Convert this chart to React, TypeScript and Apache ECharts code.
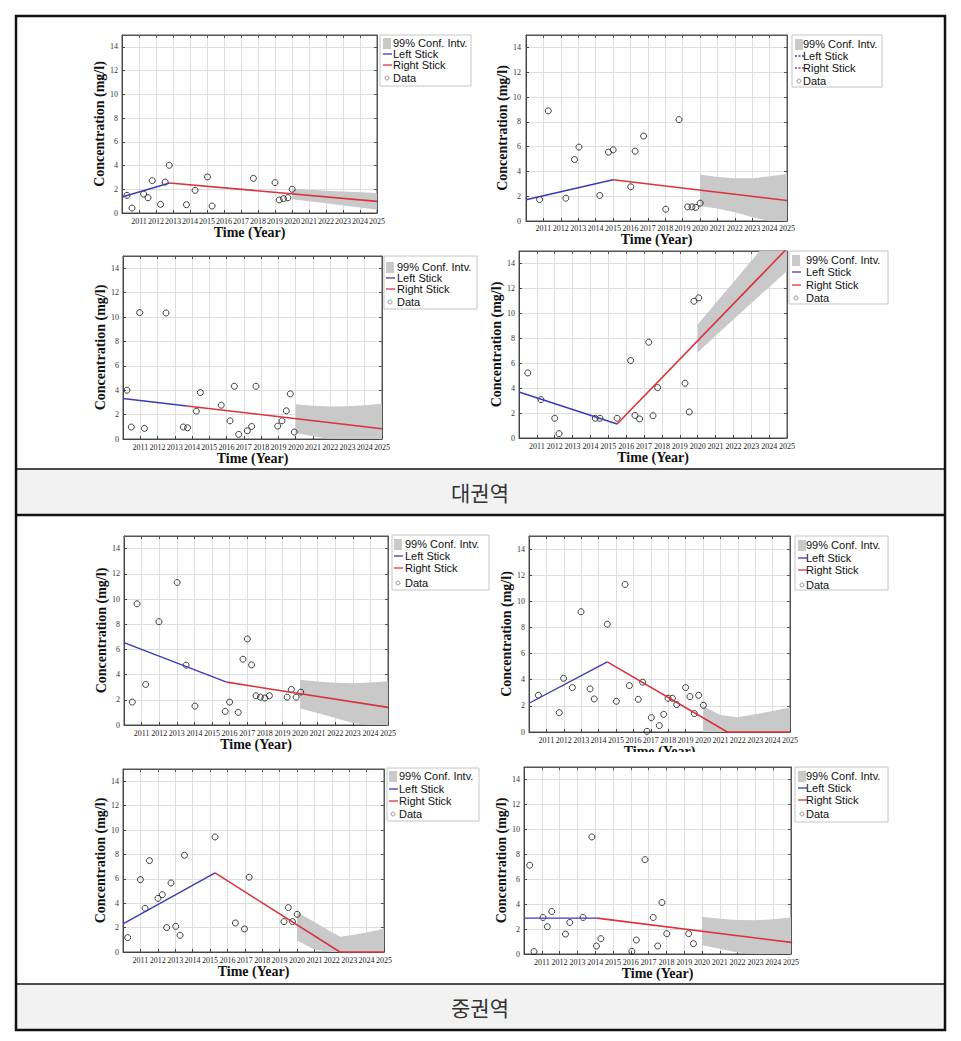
import React, { useEffect, useRef } from "react";
import * as echarts from "echarts";

// ---------- data ----------
const yearRange = [2010, 2025];
const concRange = [0, 15];
const sectionLabels = ["대권역", "중권역"];
const legendLabels = ["99% Conf. Intv.", "Left Stick", "Right Stick", "Data"];

const ciYears = [2020, 2021, 2022, 2023, 2024, 2025];

// Panel 1 (대권역, top-left)
const p1X = [2010.29, 2010.59, 2011.27, 2011.53, 2011.78, 2012.27, 2012.54, 2012.78, 2013.79, 2014.3, 2015.03, 2015.3, 2017.73, 2019.0, 2019.25, 2019.5, 2019.76, 2020.01];
const p1Y = [1.49, 0.42, 1.6, 1.29, 2.73, 0.73, 2.61, 4.02, 0.7, 1.91, 3.04, 0.59, 2.92, 2.56, 1.1, 1.21, 1.29, 2.0];
const p1Left = [[2010, 1.35], [2012.8, 2.53]];
const p1Right = [[2012.8, 2.53], [2025, 0.98]];
const p1CiUpper = [2.05, 1.96, 1.88, 1.82, 1.75, 1.69];
const p1CiLower = [1.15, 0.98, 0.82, 0.64, 0.46, 0.28];

// Panel 2 (대권역, top-right)
const p2X = [2010.78, 2011.28, 2012.29, 2012.79, 2013.04, 2014.24, 2014.74, 2015.01, 2016.02, 2016.27, 2016.76, 2018.03, 2018.79, 2019.29, 2019.54, 2019.76, 2020.01];
const p2Y = [1.73, 8.88, 1.84, 4.96, 5.96, 2.06, 5.55, 5.74, 2.76, 5.63, 6.85, 0.95, 8.18, 1.14, 1.14, 1.1, 1.44];
const p2Left = [[2010, 1.71], [2015.0, 3.33]];
const p2Right = [[2015.0, 3.33], [2025, 1.65]];
const p2CiUpper = [3.75, 3.55, 3.45, 3.45, 3.6, 3.8];
const p2CiLower = [1.2, 1.0, 0.7, 0.3, 0, 0];

// Panel 3 (대권역, middle-left)
const p3X = [2010.23, 2010.48, 2010.97, 2011.24, 2012.49, 2013.49, 2013.74, 2014.25, 2014.48, 2015.69, 2016.2, 2016.45, 2016.7, 2017.2, 2017.45, 2017.7, 2018.96, 2019.21, 2019.46, 2019.69, 2019.92];
const p3Y = [4.0, 0.98, 10.36, 0.87, 10.33, 0.98, 0.92, 2.28, 3.81, 2.77, 1.49, 4.32, 0.38, 0.68, 1.03, 4.32, 1.06, 1.49, 2.31, 3.7, 0.57];
const p3Left = [[2010, 3.32], [2013.7, 2.71]];
const p3Right = [[2013.7, 2.71], [2025, 0.84]];
const p3CiUpper = [2.85, 2.72, 2.66, 2.68, 2.76, 2.88];
const p3CiLower = [0.5, 0.22, 0, 0, 0, 0];

// Panel 4 (대권역, middle-right)
const p4X = [2010.49, 2011.23, 2012.0, 2012.24, 2014.27, 2014.53, 2015.49, 2016.25, 2016.49, 2016.75, 2017.26, 2017.5, 2017.76, 2019.29, 2019.53, 2019.79, 2020.06];
const p4Y = [5.22, 3.08, 1.58, 0.35, 1.58, 1.58, 1.58, 6.21, 1.82, 1.53, 7.68, 1.79, 4.04, 4.39, 2.09, 10.97, 11.24];
const p4Left = [[2010, 3.69], [2015.49, 1.12]];
const p4Right = [[2015.49, 1.12], [2025, 15.2]];
const p4CiUpper = [9.1, 10.8, 12.5, 14.2, 15.9, 17.6];
const p4CiLower = [6.85, 8.2, 9.5, 10.8, 12.1, 13.4];

// Panel 5 (중권역, top-left)
const p5X = [2010.47, 2010.74, 2011.23, 2011.99, 2013.02, 2013.53, 2014.03, 2015.75, 2016.0, 2016.49, 2016.76, 2017.01, 2017.25, 2017.5, 2017.75, 2018.0, 2018.26, 2019.27, 2019.51, 2019.78, 2020.04];
const p5Y = [1.82, 9.62, 3.22, 8.2, 11.31, 4.75, 1.5, 1.08, 1.82, 1.0, 5.22, 6.83, 4.77, 2.32, 2.21, 2.14, 2.32, 2.21, 2.82, 2.21, 2.61];
const p5Left = [[2010, 6.54], [2015.83, 3.4]];
const p5Right = [[2015.83, 3.4], [2025, 1.4]];
const p5CiUpper = [3.59, 3.45, 3.35, 3.32, 3.37, 3.47];
const p5CiLower = [1.3, 0.95, 0.55, 0.15, 0, 0];

// Panel 6 (중권역, top-right)
const p6X = [2010.54, 2011.74, 2011.99, 2012.49, 2012.99, 2013.51, 2013.75, 2014.5, 2015.02, 2015.52, 2015.77, 2016.28, 2016.53, 2016.78, 2017.03, 2017.49, 2017.74, 2017.99, 2018.24, 2018.49, 2019.0, 2019.25, 2019.5, 2019.75, 2020.02];
const p6Y = [2.81, 1.48, 4.11, 3.4, 9.2, 3.3, 2.53, 8.25, 2.35, 11.29, 3.55, 2.5, 3.81, 0.05, 1.1, 0.49, 1.35, 2.58, 2.58, 2.1, 3.4, 2.71, 1.41, 2.81, 2.04];
const p6Left = [[2010, 2.2], [2014.5, 5.37]];
const p6Right = [[2014.5, 5.37], [2021.4, 0], [2025, 0]];
const p6CiUpper = [1.97, 1.3, 1.12, 1.35, 1.6, 1.87];
const p6CiLower = [0, 0, 0, 0, 0, 0];

// Panel 7 (중권역, bottom-left)
const p7X = [2010.27, 2011.0, 2011.27, 2011.52, 2012.01, 2012.26, 2012.51, 2012.76, 2013.03, 2013.28, 2013.53, 2015.29, 2016.46, 2016.98, 2017.25, 2019.25, 2019.5, 2019.74, 2020.01];
const p7Y = [1.18, 5.93, 3.58, 7.49, 4.4, 4.7, 2.0, 5.66, 2.1, 1.37, 7.93, 9.43, 2.38, 1.89, 6.13, 2.49, 3.64, 2.49, 3.09];
const p7Left = [[2010, 2.3], [2015.29, 6.48]];
const p7Right = [[2015.29, 6.48], [2022.47, 0], [2025, 0]];
const p7CiYears = [2020, 2021, 2022, 2022.5, 2023, 2024, 2025];
const p7CiUpper = [3.28, 2.45, 1.62, 1.25, 1.35, 1.6, 1.9];
const p7CiLower = [0.95, 0.2, 0, 0, 0, 0, 0];

// Panel 8 (중권역, bottom-right)
const p8X = [2010.32, 2010.56, 2011.07, 2011.31, 2011.56, 2012.33, 2012.57, 2013.32, 2013.81, 2014.07, 2014.32, 2016.06, 2016.31, 2016.8, 2017.26, 2017.51, 2017.75, 2018.02, 2019.25, 2019.52];
const p8Y = [7.12, 0.19, 2.93, 2.19, 3.41, 1.6, 2.53, 2.93, 9.39, 0.64, 1.23, 0.21, 1.12, 7.57, 2.93, 0.64, 4.13, 1.63, 1.63, 0.83];
const p8Left = [[2010, 2.88], [2014.1, 2.88]];
const p8Right = [[2014.1, 2.88], [2025, 0.93]];
const p8CiUpper = [2.99, 2.82, 2.72, 2.7, 2.78, 2.92];
const p8CiLower = [0.7, 0.42, 0.12, 0, 0, 0];

// ---------- layout ----------
const SERIF = '"Liberation Serif", "Times New Roman", serif';
const SANS = '"Liberation Sans", Arial, sans-serif';
const BLUE = "#3b3bb5";
const RED = "#d9333d";
const BAND = "#c9c9c9";

const panels = [
  { x: p1X, y: p1Y, left: p1Left, right: p1Right, ciX: ciYears, ciU: p1CiUpper, ciL: p1CiLower, clip: false,
    g: { left: 122, top: 35, width: 255, height: 178 }, yGap: 13, yMargin: 4, xGap: 11, xMargin: 4,
    lg: { x: 380, y: 35, w: 91, h: 51, rows: [43, 54, 65, 78], tx: 393, ix: 383 }, dashed: false },
  { x: p2X, y: p2Y, left: p2Left, right: p2Right, ciX: ciYears, ciU: p2CiUpper, ciL: p2CiLower, clip: false,
    g: { left: 526, top: 35, width: 261, height: 186 }, yGap: 16, yMargin: 5, xGap: 5, xMargin: 3,
    lg: { x: 792, y: 35, w: 90, h: 52, rows: [44, 56, 68, 81], tx: 803, ix: 795 }, dashed: true },
  { x: p3X, y: p3Y, left: p3Left, right: p3Right, ciX: ciYears, ciU: p3CiUpper, ciL: p3CiLower, clip: false,
    g: { left: 123, top: 256, width: 259, height: 183 }, yGap: 14, yMargin: 4, xGap: 11, xMargin: 4,
    lg: { x: 384, y: 256, w: 93, h: 53, rows: [267, 278, 289, 302], tx: 397, ix: 386 }, dashed: false },
  { x: p4X, y: p4Y, left: p4Left, right: p4Right, ciX: ciYears, ciU: p4CiUpper, ciL: p4CiLower, clip: true,
    g: { left: 519, top: 251, width: 268, height: 187 }, yGap: 15, yMargin: 4, xGap: 11, xMargin: 4,
    lg: { x: 789, y: 251, w: 99, h: 53, rows: [260, 272, 285, 298], tx: 806, ix: 792 }, dashed: false },
  { x: p5X, y: p5Y, left: p5Left, right: p5Right, ciX: ciYears, ciU: p5CiUpper, ciL: p5CiLower, clip: false,
    g: { left: 124, top: 536, width: 264, height: 189 }, yGap: 15, yMargin: 4, xGap: 12, xMargin: 4,
    lg: { x: 392, y: 535, w: 97, h: 55, rows: [544, 556, 568, 583], tx: 405, ix: 394 }, dashed: false },
  { x: p6X, y: p6Y, left: p6Left, right: p6Right, ciX: ciYears, ciU: p6CiUpper, ciL: p6CiLower, clip: false,
    g: { left: 529, top: 536, width: 261, height: 196 }, yGap: 15, yMargin: 4, xGap: 11, xMargin: 4,
    lg: { x: 795, y: 536, w: 93, h: 54, rows: [545, 558, 570, 585], tx: 806, ix: 798 }, dashed: false },
  { x: p7X, y: p7Y, left: p7Left, right: p7Right, ciX: p7CiYears, ciU: p7CiUpper, ciL: p7CiLower, clip: false,
    g: { left: 123, top: 769, width: 261, height: 183 }, yGap: 14, yMargin: 4, xGap: 12, xMargin: 4,
    lg: { x: 387, y: 768, w: 92, h: 53, rows: [776, 789, 801, 814], tx: 399, ix: 389 }, dashed: false },
  { x: p8X, y: p8Y, left: p8Left, right: p8Right, ciX: ciYears, ciU: p8CiUpper, ciL: p8CiLower, clip: false,
    g: { left: 524, top: 767, width: 267, height: 187 }, yGap: 13, yMargin: 4, xGap: 11, xMargin: 4,
    lg: { x: 795, y: 767, w: 93, h: 55, rows: [776, 788, 800, 814], tx: 806, ix: 798 }, dashed: false },
];

// Sutherland-Hodgman clip of a pixel polygon against the grid rectangle
function clipPolygon(points: number[][], r: { x: number; y: number; width: number; height: number }) {
  const x1 = r.x, y1 = r.y, x2 = r.x + r.width, y2 = r.y + r.height;
  const planes = [
    { inside: (p: number[]) => p[0] >= x1, cut: (a: number[], b: number[]) => { const t = (x1 - a[0]) / (b[0] - a[0]); return [x1, a[1] + t * (b[1] - a[1])]; } },
    { inside: (p: number[]) => p[0] <= x2, cut: (a: number[], b: number[]) => { const t = (x2 - a[0]) / (b[0] - a[0]); return [x2, a[1] + t * (b[1] - a[1])]; } },
    { inside: (p: number[]) => p[1] >= y1, cut: (a: number[], b: number[]) => { const t = (y1 - a[1]) / (b[1] - a[1]); return [a[0] + t * (b[0] - a[0]), y1]; } },
    { inside: (p: number[]) => p[1] <= y2, cut: (a: number[], b: number[]) => { const t = (y2 - a[1]) / (b[1] - a[1]); return [a[0] + t * (b[0] - a[0]), y2]; } },
  ];
  let out = points;
  for (const pl of planes) {
    const input = out;
    out = [];
    if (!input.length) break;
    for (let i = 0; i < input.length; i++) {
      const cur = input[i];
      const prev = input[(i + input.length - 1) % input.length];
      const ci = pl.inside(cur), pi = pl.inside(prev);
      if (ci) {
        if (!pi) out.push(pl.cut(prev, cur));
        out.push(cur);
      } else if (pi) {
        out.push(pl.cut(prev, cur));
      }
    }
  }
  return out;
}

function buildOption() {
  const grid: any[] = [];
  const xAxis: any[] = [];
  const yAxis: any[] = [];
  const series: any[] = [];
  const graphic: any[] = [];

  panels.forEach((p, i) => {
    grid.push({ ...p.g, show: true, borderColor: "#555", borderWidth: 1, backgroundColor: "#fff" });
    xAxis.push({
      gridIndex: i, type: "value", min: yearRange[0], max: yearRange[1], interval: 1, z: 0,
      name: "Time (Year)", nameLocation: "middle", nameGap: p.xGap,
      nameTextStyle: { fontFamily: SERIF, fontWeight: "bold", fontSize: 14, color: "#111" },
      axisLine: { show: true, onZero: false, lineStyle: { color: "#444", width: 1 } },
      axisTick: { show: true, inside: true, length: 3, lineStyle: { color: "#444" } },
      axisLabel: { margin: p.xMargin, fontFamily: SERIF, fontSize: 8, color: "#222", showMinLabel: false, showMaxLabel: true, hideOverlap: false, formatter: (v: number) => String(v) },
      splitLine: { show: true, lineStyle: { color: "#dedede", width: 1 } },
    });
    xAxis.push({
      gridIndex: i, type: "value", min: yearRange[0], max: yearRange[1], interval: 1, position: "top", z: 0,
      axisLine: { show: true, onZero: false, lineStyle: { color: "#555", width: 1 } },
      axisTick: { show: true, inside: true, length: 3, lineStyle: { color: "#555" } },
      axisLabel: { show: false }, splitLine: { show: false },
    });
    yAxis.push({
      gridIndex: i, type: "value", min: concRange[0], max: concRange[1], interval: 2, z: 0,
      name: "Concentration (mg/l)", nameLocation: "middle", nameRotate: 90, nameGap: p.yGap,
      nameTextStyle: { fontFamily: SERIF, fontWeight: "bold", fontSize: 14, color: "#111" },
      axisLine: { show: true, onZero: false, lineStyle: { color: "#444", width: 1 } },
      axisTick: { show: true, inside: true, length: 3, lineStyle: { color: "#444" } },
      axisLabel: { margin: p.yMargin, fontFamily: SERIF, fontSize: 8, color: "#333", showMaxLabel: false },
      splitLine: { show: true, lineStyle: { color: "#dedede", width: 1 } },
    });
    yAxis.push({
      gridIndex: i, type: "value", min: concRange[0], max: concRange[1], interval: 2, position: "right", z: 0,
      axisLine: { show: true, onZero: false, lineStyle: { color: "#555", width: 1 } },
      axisTick: { show: true, inside: true, length: 3, lineStyle: { color: "#555" } },
      axisLabel: { show: false }, splitLine: { show: false },
    });

    const xi = 2 * i;
    const yi = 2 * i;
    // 99% confidence band: polygon between lower and upper bounds
    series.push({
      type: "custom", xAxisIndex: xi, yAxisIndex: yi, silent: true, z: 1,
      data: p.ciX.map((yr, k) => [yr, p.ciL[k], p.ciU[k]]),
      encode: { x: 0, y: [1, 2] },
      renderItem: (params: any, api: any) => {
        if (params.dataIndexInside !== 0) return null;
        const n = params.dataInsideLength;
        const top: number[][] = [];
        const bot: number[][] = [];
        for (let j = 0; j < n; j++) {
          top.push(api.coord([api.value(0, j), api.value(2, j)]));
          bot.push(api.coord([api.value(0, j), api.value(1, j)]));
        }
        const pts = clipPolygon(top.concat(bot.reverse()), params.coordSys);
        return { type: "polygon", shape: { points: pts }, style: { fill: BAND, stroke: null } };
      },
    });
    series.push({
      type: "scatter", xAxisIndex: xi, yAxisIndex: yi, symbol: "circle", symbolSize: 6, silent: true, z: 3,
      itemStyle: { color: "rgba(255,255,255,0)", borderColor: "#111", borderWidth: 1 },
      data: p.x.map((v, k) => [v, p.y[k]]),
    });
    series.push({
      type: "line", xAxisIndex: xi, yAxisIndex: yi, symbol: "none", silent: true, clip: p.clip, z: 10,
      lineStyle: { color: BLUE, width: 1.4 }, data: p.left,
    });
    series.push({
      type: "line", xAxisIndex: xi, yAxisIndex: yi, symbol: "none", silent: true, clip: p.clip, z: 10,
      lineStyle: { color: RED, width: 1.6 }, data: p.right,
    });

    // legend box
    const L = p.lg;
    const children: any[] = [
      { type: "rect", shape: { x: L.x, y: L.y, width: L.w, height: L.h }, style: { fill: "#fff", stroke: "#c4c4c4", lineWidth: 1 } },
      { type: "rect", shape: { x: L.ix, y: L.rows[0] - 5, width: 8, height: 11 }, style: { fill: BAND } },
      { type: "line", shape: { x1: L.ix, y1: L.rows[1], x2: L.ix + 9, y2: L.rows[1] }, style: { stroke: BLUE, lineWidth: 1.3, lineDash: p.dashed ? [2, 1.5] : null } },
      { type: "line", shape: { x1: L.ix, y1: L.rows[2], x2: L.ix + 9, y2: L.rows[2] }, style: { stroke: RED, lineWidth: 1.3, lineDash: p.dashed ? [2, 1.5] : null } },
      { type: "circle", shape: { cx: L.ix + 4, cy: L.rows[3], r: 2 }, style: { fill: "#fff", stroke: "#999", lineWidth: 1 } },
    ];
    legendLabels.forEach((t, k) => {
      children.push({
        type: "text", x: L.tx, y: L.rows[k],
        style: { text: t, font: `11px ${SANS}`, fill: "#111", textAlign: "left", textVerticalAlign: "middle", width: L.x + L.w - L.tx - 1, overflow: "truncate", ellipsis: "" },
      });
    });
    graphic.push({ type: "group", z: 50, children });
  });

  // frame and section bands
  graphic.push(
    { type: "rect", z: 40, shape: { x: 16, y: 469, width: 929, height: 46 }, style: { fill: "#f2f2f2" } },
    { type: "rect", z: 40, shape: { x: 16, y: 984, width: 929, height: 46 }, style: { fill: "#f2f2f2" } },
    { type: "rect", z: 60, shape: { x: 600, y: 752, width: 120, height: 8 }, style: { fill: "#fff" } },
    { type: "line", z: 60, shape: { x1: 16, y1: 469, x2: 945, y2: 469 }, style: { stroke: "#111", lineWidth: 1.5 } },
    { type: "line", z: 60, shape: { x1: 16, y1: 515, x2: 945, y2: 515 }, style: { stroke: "#111", lineWidth: 2.5 } },
    { type: "line", z: 60, shape: { x1: 16, y1: 984, x2: 945, y2: 984 }, style: { stroke: "#111", lineWidth: 1.5 } },
    { type: "rect", z: 60, shape: { x: 16, y: 16, width: 929, height: 1014 }, style: { fill: "none", stroke: "#111", lineWidth: 2.5 } },
    { type: "text", z: 60, x: 480, y: 492, style: { text: sectionLabels[0], font: `21px "Noto Sans CJK KR"`, fill: "#333", textAlign: "center", textVerticalAlign: "middle" } },
    { type: "text", z: 60, x: 480, y: 1007, style: { text: sectionLabels[1], font: `21px "Noto Sans CJK KR"`, fill: "#333", textAlign: "center", textVerticalAlign: "middle" } },
  );

  return { animation: false, backgroundColor: "#fff", grid, xAxis, yAxis, series, graphic };
}

export default function App() {
  const ref = useRef<HTMLDivElement>(null);
  useEffect(() => {
    if (!ref.current) return;
    const chart = echarts.init(ref.current, undefined, { renderer: "svg" });
    chart.setOption(buildOption() as any);
    return () => chart.dispose();
  }, []);
  return (
    <div
      ref={ref}
      style={{ position: "fixed", left: 0, top: 0, width: 961, height: 1041, background: "#fff" }}
    />
  );
}
